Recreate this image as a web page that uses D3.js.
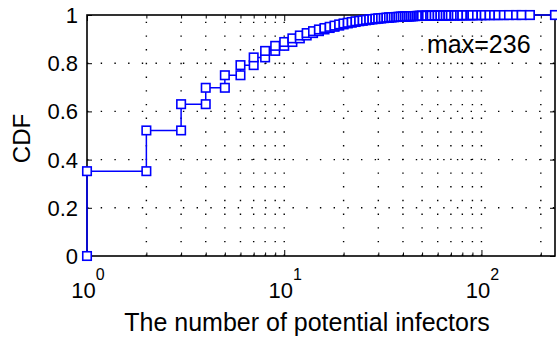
<!DOCTYPE html>
<html>
<head>
<meta charset="utf-8">
<script src="https://cdn.jsdelivr.net/npm/d3@7"></script>
<style>
  body { margin: 0; background: #fff; }
  svg { display: block; font-family: "Liberation Sans", Arial, Helvetica, sans-serif; }
</style>
</head>
<body>
<svg id="chart"></svg>
<script>
// distinct values of the number of potential infectors and their CDF
const xVals = [1, 2, 3, 4, 5, 6, 7, 8, 9, 10, 11, 12, 13, 14, 15, 16, 17, 18, 19, 20,
  21, 22, 23, 24, 25, 26, 27, 28, 29, 30, 31, 32, 33, 34, 35, 36, 37, 38, 39, 40,
  41, 42, 43, 44, 45, 46, 47, 48, 49, 50, 52, 53, 55, 56, 58, 60, 62, 64, 66, 68,
  70, 73, 75, 78, 80, 84, 88, 90, 95, 100, 104, 110, 116, 122, 130, 138, 150, 160, 176, 236];
const cdfVals = [0.352, 0.521, 0.630, 0.698, 0.750, 0.792, 0.824, 0.851, 0.872, 0.888,
  0.903, 0.915, 0.925, 0.933, 0.940, 0.946, 0.951, 0.956, 0.961, 0.965,
  0.968, 0.971, 0.974, 0.976, 0.978, 0.980, 0.982, 0.983, 0.985, 0.986,
  0.987, 0.988, 0.989, 0.990, 0.991, 0.9915, 0.992, 0.9925, 0.993, 0.9935,
  0.994, 0.9944, 0.9948, 0.9952, 0.9955, 0.9958, 0.9961, 0.9964, 0.9966, 0.9968,
  0.997, 0.9972, 0.9974, 0.9976, 0.9978, 0.998, 0.9982, 0.9983, 0.9984, 0.9985,
  0.9986, 0.9987, 0.9988, 0.9989, 0.999, 0.9991, 0.9992, 0.9993, 0.9994, 0.9995,
  0.9996, 0.9997, 0.9997, 0.9998, 0.9998, 0.9999, 0.9999, 0.9999, 0.9999, 1];

const xMajorTicks = [1, 10, 100];
const xMajorExp = ["0", "1", "2"];
const xMinorTicks = [2, 3, 4, 5, 6, 7, 8, 9, 20, 30, 40, 50, 60, 70, 80, 90, 200];
const yTicks = [0, 0.2, 0.4, 0.6, 0.8, 1];
const yTickLabels = ["0", "0.2", "0.4", "0.6", "0.8", "1"];
const xDomain = [1, 236];
const maxLabel = "max=236";

const width = 557;
const height = 337;
const marginTop = 15;
const marginRight = 2;
const marginBottom = 81;
const marginLeft = 87;

const svg = d3.select("#chart")
  .attr("width", width)
  .attr("height", height)
  .attr("viewBox", [0, 0, width, height]);

const x = d3.scaleLog()
  .domain(xDomain)
  .range([marginLeft, width - marginRight]);

const y = d3.scaleLinear()
  .domain([0, 1])
  .range([height - marginBottom, marginTop]);

const x0 = marginLeft, x1 = width - marginRight;
const y0 = height - marginBottom, y1 = marginTop;

// dotted grid (major + minor on the log axis, major on y)
const grid = svg.append("g")
  .attr("stroke", "#000")
  .attr("stroke-width", 1.4)
  .attr("stroke-dasharray", "1.4,12.3");

grid.selectAll(".gx")
  .data(xMajorTicks.concat(xMinorTicks).filter(d => d > xDomain[0]))
  .join("line")
  .attr("x1", d => x(d)).attr("x2", d => x(d))
  .attr("y1", y0).attr("y2", y1);

grid.selectAll(".gy")
  .data(yTicks.filter(d => d > 0 && d < 1))
  .join("line")
  .attr("x1", x0).attr("x2", x1)
  .attr("y1", d => y(d)).attr("y2", d => y(d));

// ticks pointing inwards on all four sides
function tickAxis(axis, transform) {
  svg.append("g")
    .attr("transform", transform)
    .call(axis)
    .call(g => g.select(".domain").remove())
    .call(g => g.selectAll("text").remove())
    .call(g => g.selectAll("line").attr("stroke", "#000").attr("stroke-width", 1));
}
tickAxis(d3.axisBottom(x).tickValues(xMajorTicks).tickSize(-6), `translate(0,${y0})`);
tickAxis(d3.axisBottom(x).tickValues(xMinorTicks).tickSize(-3.5), `translate(0,${y0})`);
tickAxis(d3.axisTop(x).tickValues(xMajorTicks).tickSize(-6), `translate(0,${y1})`);
tickAxis(d3.axisTop(x).tickValues(xMinorTicks).tickSize(-3.5), `translate(0,${y1})`);
tickAxis(d3.axisLeft(y).tickValues(yTicks).tickSize(-5), `translate(${x0},0)`);
tickAxis(d3.axisRight(y).tickValues(yTicks).tickSize(-5), `translate(${x1},0)`);

// box
svg.append("rect")
  .attr("x", x0).attr("y", y1)
  .attr("width", x1 - x0).attr("height", y0 - y1)
  .attr("fill", "none")
  .attr("stroke", "#000")
  .attr("stroke-width", 1.6);

// y tick labels
svg.append("g")
  .selectAll("text")
  .data(yTicks)
  .join("text")
  .attr("x", x0 - 9)
  .attr("y", d => y(d))
  .attr("dy", "0.36em")
  .attr("text-anchor", "end")
  .style("font-size", "22px")
  .text((d, i) => yTickLabels[i]);

// x tick labels: 10 with superscript exponent
const xl = svg.append("g")
  .selectAll("text")
  .data(xMajorTicks)
  .join("text")
  .attr("x", d => x(d) + 1)
  .attr("y", y0 + 42)
  .attr("text-anchor", "middle")
  .style("font-size", "22px");
xl.append("tspan").text("10");
xl.append("tspan")
  .attr("dy", -18)
  .style("font-size", "16px")
  .text((d, i) => xMajorExp[i]);

// axis labels
svg.append("text")
  .attr("x", 307)
  .attr("y", 331)
  .attr("text-anchor", "middle")
  .style("font-size", "25px")
  .text("The number of potential infectors");

svg.append("text")
  .attr("transform", `translate(30,${(y0 + y1) / 2 + 3}) rotate(-90)`)
  .attr("text-anchor", "middle")
  .style("font-size", "24px")
  .text("CDF");

svg.append("text")
  .attr("x", 427)
  .attr("y", 53)
  .style("font-size", "25px")
  .text(maxLabel);

// empirical CDF as stairs, marker on every vertex
const pts = [[xVals[0], 0]];
xVals.forEach((v, i) => {
  pts.push([v, cdfVals[i]]);
  if (i < xVals.length - 1) pts.push([xVals[i + 1], cdfVals[i]]);
});

const line = d3.line()
  .x(d => x(d[0]))
  .y(d => y(d[1]));

svg.append("path")
  .datum(pts)
  .attr("fill", "none")
  .attr("stroke", "#0000ff")
  .attr("stroke-width", 1.5)
  .attr("d", line);

const ms = 8.5;
svg.append("g")
  .selectAll("rect")
  .data(pts)
  .join("rect")
  .attr("x", d => x(d[0]) - ms / 2)
  .attr("y", d => y(d[1]) - ms / 2)
  .attr("width", ms)
  .attr("height", ms)
  .attr("fill", "#fff")
  .attr("stroke", "#0000ff")
  .attr("stroke-width", 1.6);
</script>
</body>
</html>
